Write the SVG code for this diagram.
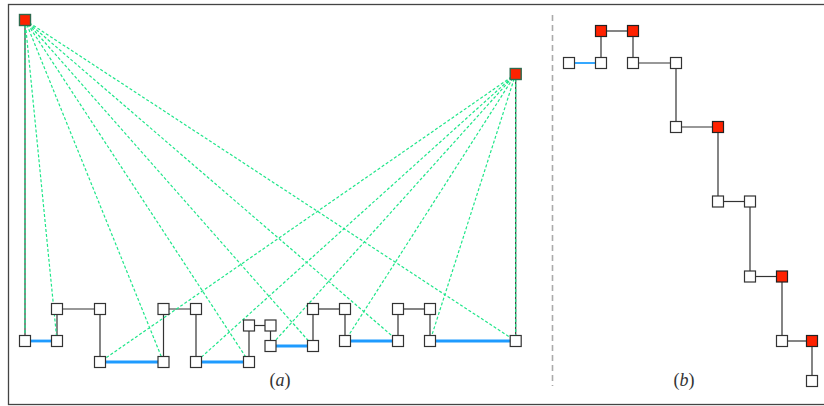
<svg xmlns="http://www.w3.org/2000/svg" width="824" height="406" viewBox="0 0 824 406">
  <style>
    .frame { fill: none; stroke: #444; stroke-width: 1.3; }
    .sep { stroke: #aaa; stroke-width: 1.6; stroke-dasharray: 6 4; }
    .e { stroke: #333; stroke-width: 1.2; }
    .m { stroke: #1e9bff; stroke-width: 2.8; }
    .mb { stroke: #35a8ff; stroke-width: 2; }
    .g { stroke: #1fe68a; stroke-width: 1.2; stroke-dasharray: 3 2; fill: none; }
    .n { fill: #fff; stroke: #333; stroke-width: 1.2; }
    .r { fill: #ff2200; stroke: #222; stroke-width: 1.2; }
    .rg { fill: #ff2200; stroke: #2e6a4e; stroke-width: 1.4; }
    .lbl { font-family: "Liberation Serif", "DejaVu Serif", serif; font-size: 18px; fill: #333; }
  </style>
  <defs>
    <rect id="sq" x="-5.5" y="-5.5" width="11" height="11"/>
  </defs>

  <rect class="frame" x="8.5" y="4.5" width="830" height="400"/>
  <line class="sep" x1="552.5" y1="15" x2="552.5" y2="386"/>

  <!-- (a) edges -->
  <g id="edges-a">
    <line class="e" x1="25" y1="20" x2="25" y2="341"/>
    <line class="e" x1="515.7" y1="74" x2="515.7" y2="341"/>
    <line class="m" x1="25" y1="341" x2="57" y2="341"/>
    <line class="e" x1="57" y1="341" x2="57" y2="309"/>
    <line class="e" x1="57" y1="309" x2="100" y2="309"/>
    <line class="e" x1="100" y1="309" x2="100" y2="362"/>
    <line class="m" x1="100" y1="362" x2="163.5" y2="362"/>
    <line class="e" x1="163.5" y1="362" x2="163.5" y2="309"/>
    <line class="e" x1="163.5" y1="309" x2="196" y2="309"/>
    <line class="e" x1="196" y1="309" x2="196" y2="362"/>
    <line class="m" x1="196" y1="362" x2="249" y2="362"/>
    <line class="e" x1="249" y1="362" x2="249" y2="325.5"/>
    <line class="e" x1="249" y1="325.5" x2="270.5" y2="325.5"/>
    <line class="e" x1="270.5" y1="325.5" x2="270.5" y2="346"/>
    <line class="m" x1="270.5" y1="346" x2="313" y2="346"/>
    <line class="e" x1="313" y1="346" x2="313" y2="309"/>
    <line class="e" x1="313" y1="309" x2="345" y2="309"/>
    <line class="e" x1="345" y1="309" x2="345" y2="341"/>
    <line class="m" x1="345" y1="341" x2="398" y2="341"/>
    <line class="e" x1="398" y1="341" x2="398" y2="309"/>
    <line class="e" x1="398" y1="309" x2="430" y2="309"/>
    <line class="e" x1="430" y1="309" x2="430" y2="341"/>
    <line class="m" x1="430" y1="341" x2="515.7" y2="341"/>
  </g>

  <!-- (a) dashed rays from the two red terminals -->
  <g id="rays-a">
    <path class="g" d="M25 20 L25 341 M25 20 L57 341 M25 20 L163.5 362 M25 20 L249 362 M25 20 L313 346 M25 20 L398 341 M25 20 L515.7 341"/>
    <path class="g" d="M515.7 74 L515.7 341 M515.7 74 L430 341 M515.7 74 L345 341 M515.7 74 L270.5 346 M515.7 74 L196 362 M515.7 74 L100 362"/>
  </g>

  <!-- (a) nodes -->
  <g id="a-r1"><use href="#sq" class="rg" x="25" y="20"/></g>
  <g id="a-r2"><use href="#sq" class="rg" x="515.7" y="74"/></g>
  <g id="a-1"><use href="#sq" class="n" x="25" y="341"/></g>
  <g id="a-2"><use href="#sq" class="n" x="57" y="341"/></g>
  <g id="a-3"><use href="#sq" class="n" x="57" y="309"/></g>
  <g id="a-4"><use href="#sq" class="n" x="100" y="309"/></g>
  <g id="a-5"><use href="#sq" class="n" x="100" y="362"/></g>
  <g id="a-6"><use href="#sq" class="n" x="163.5" y="362"/></g>
  <g id="a-7"><use href="#sq" class="n" x="163.5" y="309"/></g>
  <g id="a-8"><use href="#sq" class="n" x="196" y="309"/></g>
  <g id="a-9"><use href="#sq" class="n" x="196" y="362"/></g>
  <g id="a-10"><use href="#sq" class="n" x="249" y="362"/></g>
  <g id="a-11"><use href="#sq" class="n" x="249" y="325.5"/></g>
  <g id="a-12"><use href="#sq" class="n" x="270.5" y="325.5"/></g>
  <g id="a-13"><use href="#sq" class="n" x="270.5" y="346"/></g>
  <g id="a-14"><use href="#sq" class="n" x="313" y="346"/></g>
  <g id="a-15"><use href="#sq" class="n" x="313" y="309"/></g>
  <g id="a-16"><use href="#sq" class="n" x="345" y="309"/></g>
  <g id="a-17"><use href="#sq" class="n" x="345" y="341"/></g>
  <g id="a-18"><use href="#sq" class="n" x="398" y="341"/></g>
  <g id="a-19"><use href="#sq" class="n" x="398" y="309"/></g>
  <g id="a-20"><use href="#sq" class="n" x="430" y="309"/></g>
  <g id="a-21"><use href="#sq" class="n" x="430" y="341"/></g>
  <g id="a-22"><use href="#sq" class="n" x="515.7" y="341"/></g>

  <text class="lbl" x="280" y="386" text-anchor="middle">(<tspan font-style="italic">a</tspan>)</text>

  <!-- (b) edges -->
  <g id="edges-b">
    <line class="mb" x1="569" y1="63" x2="601" y2="63"/>
    <line class="e" x1="601" y1="63" x2="601" y2="31"/>
    <line class="e" x1="601" y1="31" x2="633" y2="31"/>
    <line class="e" x1="633" y1="31" x2="633" y2="63"/>
    <line class="e" x1="633" y1="63" x2="676" y2="63"/>
    <line class="e" x1="676" y1="63" x2="676" y2="127"/>
    <line class="e" x1="676" y1="127" x2="718" y2="127"/>
    <line class="e" x1="718" y1="127" x2="718" y2="201.5"/>
    <line class="e" x1="718" y1="201.5" x2="750" y2="201.5"/>
    <line class="e" x1="750" y1="201.5" x2="750" y2="276.5"/>
    <line class="e" x1="750" y1="276.5" x2="782" y2="276.5"/>
    <line class="e" x1="782" y1="276.5" x2="782" y2="341"/>
    <line class="e" x1="782" y1="341" x2="812" y2="341"/>
    <line class="e" x1="812" y1="341" x2="812" y2="381"/>
  </g>

  <!-- (b) nodes -->
  <g id="b-1"><use href="#sq" class="r" x="601" y="31"/></g>
  <g id="b-2"><use href="#sq" class="r" x="633" y="31"/></g>
  <g id="b-3"><use href="#sq" class="n" x="569" y="63"/></g>
  <g id="b-4"><use href="#sq" class="n" x="601" y="63"/></g>
  <g id="b-5"><use href="#sq" class="n" x="633" y="63"/></g>
  <g id="b-6"><use href="#sq" class="n" x="676" y="63"/></g>
  <g id="b-7"><use href="#sq" class="n" x="676" y="127"/></g>
  <g id="b-8"><use href="#sq" class="r" x="718" y="127"/></g>
  <g id="b-9"><use href="#sq" class="n" x="718" y="201.5"/></g>
  <g id="b-10"><use href="#sq" class="n" x="750" y="201.5"/></g>
  <g id="b-11"><use href="#sq" class="n" x="750" y="276.5"/></g>
  <g id="b-12"><use href="#sq" class="r" x="782" y="276.5"/></g>
  <g id="b-13"><use href="#sq" class="n" x="782" y="341"/></g>
  <g id="b-14"><use href="#sq" class="r" x="812" y="341"/></g>
  <g id="b-15"><use href="#sq" class="n" x="812" y="381"/></g>

  <text class="lbl" x="684" y="386" text-anchor="middle">(<tspan font-style="italic">b</tspan>)</text>
</svg>
